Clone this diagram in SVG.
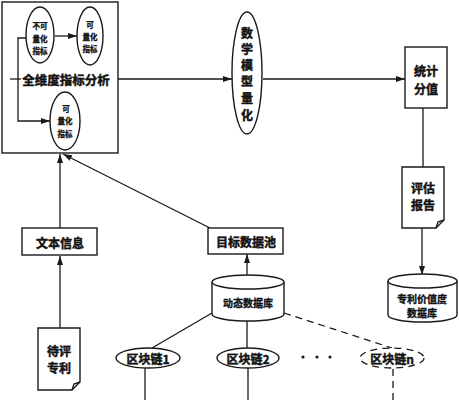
<svg xmlns="http://www.w3.org/2000/svg" width="459" height="400" viewBox="0 0 459 400">
<defs>
<marker id="ah" markerUnits="userSpaceOnUse" markerWidth="9" markerHeight="6" refX="9" refY="3" orient="auto">
<path d="M0,0 L9,3 L0,6 Z" fill="#1a1a1a"/>
</marker>
<style>
.s{fill:#fff;stroke:#1a1a1a;stroke-width:1.4}
.n{fill:none;stroke:#1a1a1a;stroke-width:1.4}
.l{fill:none;stroke:#1a1a1a;stroke-width:1.3}
.d{fill:none;stroke:#1a1a1a;stroke-width:1.3;stroke-dasharray:7,5}
text{font-family:"Noto Sans CJK SC","Noto Sans CJK JP",sans-serif;font-weight:bold;fill:#111;stroke:#111;stroke-width:0.45;text-anchor:middle;dominant-baseline:central}
.t12{font-size:12px}
.t13{font-size:12.5px}
.t10{font-size:10px;stroke-width:0.35}
.t8{font-size:7.5px;stroke-width:0.3}
</style>
</defs>
<rect width="459" height="400" fill="#fff"/>

<g id="connectors">
<line class="l" x1="55" y1="36" x2="77" y2="36" marker-end="url(#ah)"/>
<polyline class="l" points="27,38 18,38 18,121 50,121" marker-end="url(#ah)"/>
<line class="l" x1="10" y1="79" x2="21" y2="79"/>
<line class="l" x1="118" y1="79" x2="232" y2="79" marker-end="url(#ah)"/>
<line class="l" x1="263" y1="79" x2="405" y2="79" marker-end="url(#ah)"/>
<line class="l" x1="423" y1="108" x2="423" y2="167"/>
<line class="l" x1="422" y1="228" x2="422" y2="275" marker-end="url(#ah)"/>
<line class="l" x1="60" y1="228" x2="60" y2="154" marker-end="url(#ah)"/>
<line class="l" x1="210" y1="228" x2="63" y2="154" marker-end="url(#ah)"/>
<line class="l" x1="60" y1="328" x2="60" y2="256" marker-end="url(#ah)"/>
<line class="l" x1="247" y1="276" x2="247" y2="254" marker-end="url(#ah)"/>
<line class="l" x1="212" y1="313" x2="152" y2="348"/>
<line class="l" x1="247" y1="321" x2="247" y2="348"/>
<line class="d" x1="284" y1="313" x2="392" y2="348"/>
<line class="l" x1="145" y1="368" x2="145" y2="400"/>
<line class="l" x1="248" y1="368" x2="248" y2="400"/>
<line class="d" x1="393" y1="369" x2="393" y2="400"/>
</g>

<g id="analysis">
<rect class="n" x="2" y="2" width="116" height="151"/>
<text class="t13" x="66" y="79">全维度指标分析</text>
</g>

<g id="unquantifiable">
<ellipse class="s" cx="40" cy="35" rx="14" ry="28"/>
<text class="t8" x="40" y="25">不可</text>
<text class="t8" x="40" y="38">量化</text>
<text class="t8" x="40" y="50">指标</text>
</g>

<g id="quantifiable1">
<ellipse class="s" cx="90" cy="36" rx="13" ry="29"/>
<text class="t8" x="90" y="24">可</text>
<text class="t8" x="90" y="36">量化</text>
<text class="t8" x="90" y="48">指标</text>
</g>

<g id="quantifiable2">
<ellipse class="s" cx="65" cy="121" rx="15" ry="29"/>
<text class="t8" x="66" y="108">可</text>
<text class="t8" x="65" y="120">量化</text>
<text class="t8" x="65" y="133">指标</text>
</g>

<g id="model">
<ellipse class="s" cx="247" cy="73" rx="15" ry="61"/>
<text class="t12" x="247" y="32">数</text>
<text class="t12" x="247" y="48">学</text>
<text class="t12" x="247" y="64">模</text>
<text class="t12" x="247" y="80">型</text>
<text class="t12" x="247" y="97">量</text>
<text class="t12" x="247" y="114">化</text>
</g>

<g id="score">
<rect class="s" x="405" y="47" width="42" height="61"/>
<text class="t12" x="426" y="70">统计</text>
<text class="t12" x="426" y="88">分值</text>
</g>

<g id="report">
<path class="s" d="M402,167 H444 V220 L436,228 H402 Z"/>
<path class="n" d="M436,228 L438,222 L444,220"/>
<text class="t12" x="423" y="187">评估</text>
<text class="t12" x="423" y="204">报告</text>
</g>

<g id="valuedb">
<path class="s" d="M388,281 A34.5,7 0 0 1 457,281 V315 A34.5,7 0 0 1 388,315 Z"/>
<path class="n" d="M388,281 A34.5,7 0 0 0 457,281"/>
<text class="t10" x="422" y="298">专利价值度</text>
<text class="t10" x="422" y="312">数据库</text>
</g>

<g id="textinfo">
<rect class="s" x="22" y="228" width="75" height="27"/>
<text class="t12" x="60" y="242">文本信息</text>
</g>

<g id="pool">
<rect class="s" x="208" y="228" width="75" height="26"/>
<text class="t12" x="246" y="241">目标数据池</text>
</g>

<g id="dyndb">
<path class="s" d="M212,282 A36,7 0 0 1 284,282 V314 A36,7 0 0 1 212,314 Z"/>
<path class="n" d="M212,282 A36,7 0 0 0 284,282"/>
<text class="t10" x="248" y="302">动态数据库</text>
</g>

<g id="patent">
<path class="s" d="M38,328 H80 V382 L72,390 H38 Z"/>
<path class="n" d="M72,390 L74,384 L80,382"/>
<text class="t12" x="59" y="350">待评</text>
<text class="t12" x="59" y="367">专利</text>
</g>

<g id="chain1">
<ellipse class="s" cx="148" cy="358" rx="32" ry="10"/>
<text class="t12" x="148" y="358">区块链1</text>
</g>

<g id="chain2">
<ellipse class="s" cx="248" cy="358" rx="31" ry="10"/>
<text class="t12" x="248" y="358">区块链2</text>
</g>

<g id="dots">
<circle cx="303" cy="357" r="1.6" fill="#1a1a1a"/>
<circle cx="317" cy="357" r="1.6" fill="#1a1a1a"/>
<circle cx="330" cy="357" r="1.6" fill="#1a1a1a"/>
</g>

<g id="chainn">
<ellipse class="d" cx="392" cy="358" rx="32" ry="10" style="fill:#fff"/>
<text class="t12" x="392" y="358">区块链n</text>
</g>
</svg>
